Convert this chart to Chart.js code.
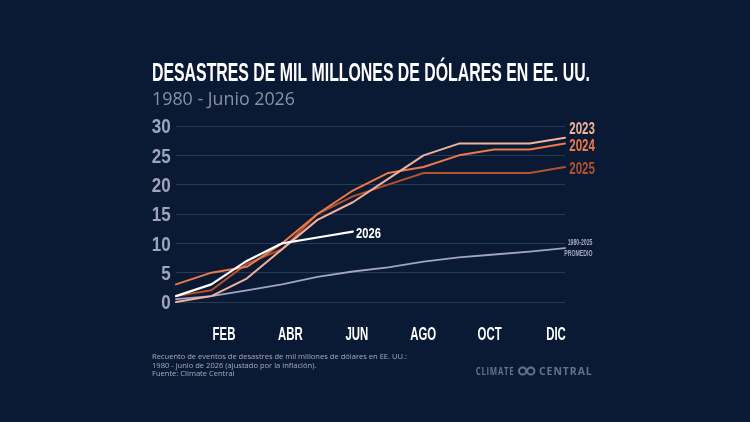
<!DOCTYPE html>
<html><head><meta charset="utf-8">
<script src="https://cdn.jsdelivr.net/npm/chart.js@4"></script>
<style>html,body{margin:0;padding:0;background:#0b1a34;overflow:hidden}canvas{display:block}</style>
</head><body>
<canvas id="c" width="750" height="422"></canvas>
<script>
// ---- data ----
const MONTHS = ['ENE','FEB','MAR','ABR','MAY','JUN','JUL','AGO','SEP','OCT','NOV','DIC'];
const X_TICK_LABELS = ['FEB','ABR','JUN','AGO','OCT','DIC'];
const Y_TICKS = [0,5,10,15,20,25,30];
const S2023 = [0,1,4,9,14,17,21,25,27,27,27,28];
const S2024 = [3,5,6,10,15,19,22,23,25,26,26,27];
const S2025 = [1,2,6.5,9,15,18,20,22,22,22,22,23];
const S2026 = [1,3,7,10,11,12];
const AVG   = [0.5,1,2,3,4.3,5.2,5.9,6.9,7.6,8.1,8.6,9.2];
const TITLE = 'DESASTRES DE MIL MILLONES DE DÓLARES EN EE. UU.';
const SUBTITLE = '1980 - Junio 2026';
const NOTE = ['Recuento de eventos de desastres de mil millones de dólares en EE. UU.:',
              '1980 - junio de 2026 (ajustado por la inflación).',
              'Fuente: Climate Central'];
const LOGO = ['CLIMATE','CENTRAL'];

// ---- helpers ----
function drawCond(ctx, text, x, y, font, color, sx, align){
  ctx.save(); ctx.font = font; ctx.fillStyle = color;
  ctx.textBaseline = 'alphabetic'; ctx.textAlign = 'left';
  const w = ctx.measureText(text).width * sx;
  const x0 = align === 'right' ? x - w : align === 'center' ? x - w/2 : x;
  ctx.translate(x0, y); ctx.scale(sx, 1); ctx.fillText(text, 0, 0); ctx.restore();
  return w;
}
function fitScale(ctx, text, font, width){
  ctx.save(); ctx.font = font; const w = ctx.measureText(text).width; ctx.restore();
  return width / w;
}

const decor = {
  id: 'decor',
  beforeDraw(chart){
    const ctx = chart.ctx;
    ctx.save(); ctx.fillStyle = '#0b1a34'; ctx.fillRect(0,0,chart.width,chart.height); ctx.restore();
  },
  afterDraw(chart){
    const ctx = chart.ctx;
    // title
    const tf = 'bold 26.5px "Liberation Sans", Arial, sans-serif';
    drawCond(ctx, TITLE, 152, 80.7, tf, '#ffffff', fitScale(ctx, TITLE, tf, 438), 'left');
    const sf = '17.5px "Open Sans", sans-serif';
    drawCond(ctx, SUBTITLE, 152, 105.3, sf, '#8a90a6', fitScale(ctx, SUBTITLE, sf, 143), 'left');
    // y tick labels
    const ys = chart.scales.y;
    Y_TICKS.forEach(v => {
      const py = ys.getPixelForValue(v);
      drawCond(ctx, String(v), 170.7, py + 7.3, 'bold 20.5px "Liberation Sans", Arial, sans-serif', '#9ea4bb', 0.83, 'right');
    });
    // x tick labels
    const xm = chart.scales.xm;
    X_TICK_LABELS.forEach(lab => {
      const px = xm.getPixelForValue(MONTHS.indexOf(lab));
      drawCond(ctx, lab, px, 340.3, 'bold 19px "Liberation Sans", Arial, sans-serif', '#ffffff', 0.6, 'center');
    });
    // end labels
    chart.data.datasets.forEach((ds, i) => {
      const el = ds.endLabel; if (!el) return;
      const meta = chart.getDatasetMeta(i);
      const pt = meta.data[meta.data.length - 1];
      el.lines.forEach((t, k) => {
        drawCond(ctx, t, pt.x + el.dx, pt.y + el.dy[k],
          'bold ' + el.size + 'px "Liberation Sans", Arial, sans-serif', el.color, el.sx, el.align);
      });
    });
    // footnote
    const nf = '8px "Open Sans", sans-serif';
    const nsx = fitScale(ctx, NOTE[0], nf, 255);
    NOTE.forEach((t, k) => drawCond(ctx, t, 152, 359 + k * 8.6, nf, '#a7acbe', nsx, 'left'));
    // logo
    const lf = 'bold 11px "Open Sans", sans-serif';
    ctx.save(); ctx.letterSpacing = '1px';
    drawCond(ctx, LOGO[0], 475.7, 375, lf, '#66728a', fitScale(ctx, LOGO[0], lf, 38.6), 'left');
    drawCond(ctx, LOGO[1], 539, 375, lf, '#66728a', fitScale(ctx, LOGO[1], lf, 53.7), 'left');
    ctx.restore();
    ctx.save(); ctx.strokeStyle = '#66728a'; ctx.lineWidth = 2;
    ctx.beginPath(); ctx.arc(522.6, 371, 3.6, 0, Math.PI*2); ctx.stroke();
    ctx.beginPath(); ctx.arc(530.8, 371, 3.6, 0, Math.PI*2); ctx.stroke();
    ctx.restore();
  }
};

new Chart(document.getElementById('c'), {
  type: 'line',
  data: {
    labels: MONTHS,
    datasets: [
      {label:'2026', data:S2026, borderColor:'#ffffff', borderWidth:2.2,
       endLabel:{lines:['2026'], dx:3.2, dy:[6], size:15.5, sx:0.72, color:'#ffffff', align:'left'}},
      {label:'2023', data:S2023, borderColor:'#f3b39b',
       endLabel:{lines:['2023'], dx:4.3, dy:[-4.1], size:16, sx:0.72, color:'#f3b39b', align:'left'}},
      {label:'2024', data:S2024, borderColor:'#ec7a4a',
       endLabel:{lines:['2024'], dx:4.3, dy:[7.3], size:16, sx:0.72, color:'#ec7a4a', align:'left'}},
      {label:'2025', data:S2025, borderColor:'#b4512f',
       endLabel:{lines:['2025'], dx:4.3, dy:[6.8], size:16, sx:0.72, color:'#b4512f', align:'left'}},
      {label:'1980-2025 promedio', data:AVG, borderColor:'#a3a3c4', borderWidth:1.8,
       endLabel:{lines:['1980-2025','PROMEDIO'], dx:27.5, dy:[-3.3, 8.1], size:8.4, sx:0.62, color:'#a3a8bd', align:'right'}}
    ]
  },
  options: {
    responsive: false,
    animation: false,
    layout: {padding: {left:176, right:185, top:126, bottom:120}},
    plugins: {legend:{display:false}, tooltip:{enabled:false}, title:{display:false}},
    elements: {
      point: {radius:0, hoverRadius:0},
      line: {tension:0, borderWidth:2, borderCapStyle:'round', borderJoinStyle:'round', fill:false}
    },
    datasets: {line: {clip: false}},
    scales: {
      x: {type:'category', display:false, offset:false},
      xm: {type:'linear', axis:'x', position:'bottom', display:false, min:-0.446, max:11.27},
      y: {min:0, max:30, ticks:{display:false, stepSize:5},
          grid:{color:'#293a59', drawTicks:false, lineWidth:1},
          border:{display:false}}
    }
  },
  plugins: [decor]
});
</script>
</body></html>
